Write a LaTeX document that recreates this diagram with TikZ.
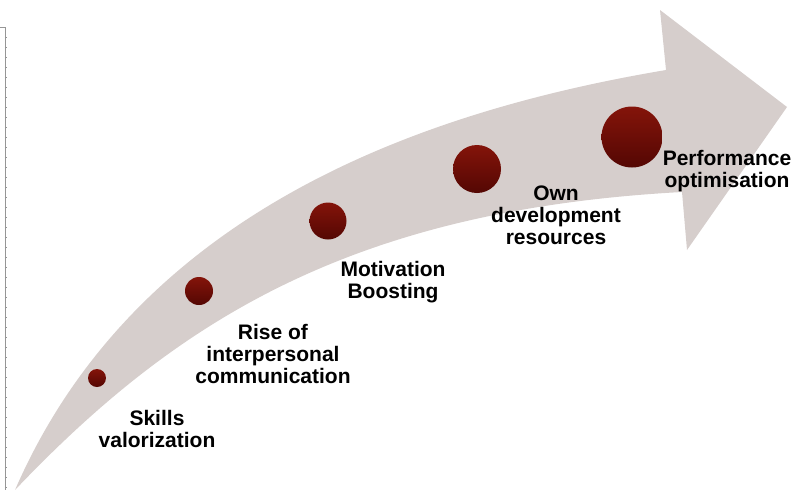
\documentclass[tikz,border=0pt]{standalone}
\usepackage{fontspec}
\setmainfont{Liberation Sans}
\usetikzlibrary{positioning}

\definecolor{arrowgray}{RGB}{214,206,204}
\definecolor{dottop}{RGB}{132,20,10}
\definecolor{dotbot}{RGB}{84,7,3}
\definecolor{rulegray}{RGB}{150,150,150}

\begin{document}
\begin{tikzpicture}[x=1pt,y=-1pt,
dot/.style = {circle, inner sep=0pt, top color=dottop, bottom color=dotbot},   % <-- added
label/.style = {align=center, inner sep=0pt, font=\fontsize{21}{22}\selectfont\bfseries}]
\useasboundingbox (0,0) rectangle (806,490);
% ruler at the left
\draw[rulegray, line width=0.6pt] (0,27) -- (5,27) -- (5,490);
\foreach \y in {37,47,...,487}
	\draw[rulegray, line width=0.6pt] (5,\y) -- (6.5,\y);
% the big curved arrow
\fill[arrowgray] (15,490) .. controls (135,214) and (416,112) .. (666,70)
	-- (660,10) -- (787,107) -- (687,250) -- (682,192)
	.. controls (350,210) and (175,322) .. (15,490) -- cycle;
% steps
\node[dot, minimum size=18pt] (s1) at (97,378) {};
\node[dot, minimum size=28pt] (s2) at (199,291) {};
\node[dot, minimum size=37pt] (s3) at (328,221) {};
\node[dot, minimum size=48pt] (s4) at (477,169) {};
\node[dot, minimum size=61pt] (s5) at (632,137) {};
\node[label] (t1) at (157,429) {Skills\\valorization};
\node[label] (t2) at (273,354) {Rise of\\interpersonal\\communication};
\node[label] (t3) at (393,282) {Motivation\\Boosting};
\node[label] (t4) at (556,215) {Own\\development\\resources};
\node[label] (t5) at (727,171) {Performance\\optimisation};
\end{tikzpicture}
\end{document}
